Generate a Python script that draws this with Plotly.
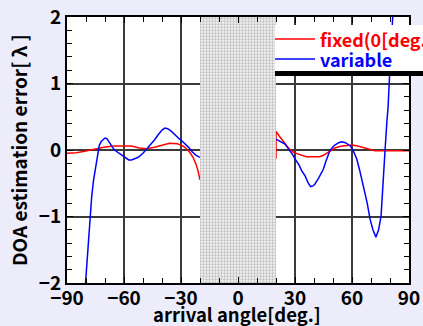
import plotly.graph_objects as go

# ---- data ----
fixed_left_x = [-90, -85, -80, -75, -70, -65, -60, -56, -52, -48, -44, -40, -36, -32, -29, -27, -25, -23.5, -22, -21, -20]
fixed_left_y = [-0.05, -0.04, -0.015, 0.02, 0.045, 0.06, 0.065, 0.06, 0.03, 0.02, 0.04, 0.075, 0.1, 0.095, 0.06, 0.015, -0.05, -0.12, -0.22, -0.32, -0.45]
fixed_right_x = [20, 20, 22, 24, 26, 27.5, 29, 31, 33, 36, 40, 43, 45, 47, 49, 51, 54, 57, 60, 63, 66, 69, 72, 80, 90]
fixed_right_y = [-0.13, 0.28, 0.2, 0.115, 0.05, 0.005, -0.03, -0.055, -0.075, -0.1, -0.1, -0.1, -0.08, -0.045, 0.0, 0.03, 0.055, 0.07, 0.075, 0.06, 0.04, 0.01, -0.01, -0.01, -0.01]

var_left_x = [-80.5, -79, -78, -77, -76, -75, -74.3, -73.5, -73, -72, -71, -70, -69, -68, -67, -66, -65, -63, -61, -59, -57.5, -56, -54, -52.5, -50, -48.5, -46, -44, -42, -40, -38.5, -37, -35, -33, -31, -30, -28, -26, -24, -22, -20]
var_left_y = [-2.1, -1.5, -1.0, -0.7, -0.45, -0.28, -0.15, 0.0, 0.07, 0.13, 0.16, 0.18, 0.17, 0.12, 0.08, 0.04, 0.0, -0.04, -0.09, -0.13, -0.15, -0.15, -0.13, -0.11, -0.05, 0.0, 0.07, 0.15, 0.23, 0.3, 0.33, 0.32, 0.28, 0.22, 0.17, 0.15, 0.1, 0.04, -0.03, -0.08, -0.11]
var_right_x = [20, 22, 24.7, 26, 27.4, 29, 30, 32, 33.5, 35.3, 37, 38.2, 39.5, 40.5, 42.5, 44.9, 46.5, 48.4, 50, 51, 53, 54.6, 56.5, 59, 60.5, 62.5, 64, 66, 68, 69.5, 71, 72.6, 74, 75.3, 76.5, 77.4, 78.3, 79, 80, 81.4, 82]
var_right_y = [0.165, 0.13, 0.09, 0.04, -0.01, -0.08, -0.135, -0.22, -0.31, -0.39, -0.5, -0.55, -0.54, -0.51, -0.42, -0.29, -0.15, -0.01, 0.05, 0.075, 0.11, 0.125, 0.11, 0.065, 0.0, -0.135, -0.3, -0.54, -0.8, -1.04, -1.2, -1.31, -1.2, -0.99, -0.5, 0.0, 0.4, 0.65, 1.25, 2.02, 2.3]

shade_x = [-20, 20]
y_range = [-2, 2]
x_ticks = [-90, -60, -30, 0, 30, 60, 90]
y_ticks = [-2, -1, 0, 1, 2]

series_names = ["fixed(0[deg.])", "variable"]
series_colors = ["#ff0000", "#0000ff"]

FONT = "Noto Sans CJK JP"

fig = go.Figure()

fig.add_trace(go.Scatter(x=fixed_left_x, y=fixed_left_y, mode="lines", name=series_names[0],
                         line=dict(color=series_colors[0], width=1.5), showlegend=False))
fig.add_trace(go.Scatter(x=fixed_right_x, y=fixed_right_y, mode="lines", name=series_names[0],
                         line=dict(color=series_colors[0], width=1.5), showlegend=False))
fig.add_trace(go.Scatter(x=var_left_x, y=var_left_y, mode="lines", name=series_names[1],
                         line=dict(color=series_colors[1], width=1.5), showlegend=False))
fig.add_trace(go.Scatter(x=var_right_x, y=var_right_y, mode="lines", name=series_names[1],
                         line=dict(color=series_colors[1], width=1.5), showlegend=False))

# stippled blind region
fig.add_trace(go.Scatter(
    x=[shade_x[0], shade_x[1], shade_x[1], shade_x[0], shade_x[0]],
    y=[y_range[0], y_range[0], y_range[1], y_range[1], y_range[0]],
    mode="lines", fill="toself", line=dict(width=0, color="rgba(0,0,0,0)"),
    fillcolor="white",
    fillpattern=dict(shape=".", fgcolor="#8c8c8c", bgcolor="#f2f2f2", size=3, solidity=0.45),
    showlegend=False, hoverinfo="skip"))

axis_common = dict(
    showline=True, linecolor="black", linewidth=2, mirror="allticks",
    ticks="inside", ticklen=6, tickcolor="black", tickwidth=1,
    showgrid=True, gridcolor="#3a3a3a", gridwidth=1.5,
    zeroline=False,
    tickfont=dict(family=FONT, size=19, color="black", weight="bold"),
)

fig.update_xaxes(range=[-90, 90], tickvals=x_ticks, ticklabelstandoff=-3, **axis_common,
                 minor=dict(dtick=10, tick0=0, ticks="inside", ticklen=5, tickcolor="black", showgrid=False))
fig.update_yaxes(range=y_range, tickvals=y_ticks, ticklabelstandoff=0, **axis_common,
                 minor=dict(dtick=0.2, tick0=0, ticks="inside", ticklen=5, tickcolor="black", showgrid=False))

L, R, T, B = 67, 14, 17, 43
W, H = 423, 326
pw = W - L - R
ph = H - T - B

def px_x(p):
    return (p - L) / pw

def px_y(p):
    return (H - B - p) / ph

shapes = [
    dict(type="rect", xref="paper", yref="paper",
         x0=px_x(275), x1=px_x(440), y0=px_y(71), y1=px_y(25),
         fillcolor="white", line=dict(width=0), layer="above"),
    dict(type="rect", xref="paper", yref="paper",
         x0=px_x(275), x1=px_x(440), y0=px_y(76), y1=px_y(71),
         fillcolor="black", line=dict(width=0), layer="above"),
]
annotations = [
    dict(text="DOA estimation error[ λ ]", xref="paper", yref="paper",
         x=px_x(18), y=px_y(150), textangle=-90, showarrow=False,
         xanchor="center", yanchor="middle",
         font=dict(family=FONT, size=19, color="black", weight="bold")),
    dict(text="arrival angle[deg.]", xref="paper", yref="paper",
         x=px_x(237), y=px_y(314), showarrow=False,
         xanchor="center", yanchor="middle",
         font=dict(family=FONT, size=18.5, color="black", weight="bold")),
]
# legend (drawn as lines + text, so spacing matches the reference)
for i, (name, color) in enumerate(zip(series_names, series_colors)):
    yy = 39 + 20 * i
    shapes.append(dict(type="line", xref="paper", yref="paper",
                       x0=px_x(275), x1=px_x(315), y0=px_y(yy), y1=px_y(yy),
                       line=dict(color=color, width=1.5), layer="above"))
    annotations.append(dict(text=name, xref="paper", yref="paper",
                            x=px_x(318), y=px_y(yy), showarrow=False,
                            xanchor="left", yanchor="middle",
                            font=dict(family=FONT, size=18, color=color, weight="bold")))

fig.update_layout(
    width=W, height=H,
    margin=dict(l=L, r=R, t=T, b=B, autoexpand=False),
    paper_bgcolor="#ececfa",
    plot_bgcolor="white",
    showlegend=False,
    shapes=shapes,
    annotations=annotations,
)

fig.write_html("out.html", config={"displayModeBar": False},
               post_script="document.body.style.margin='0px';")
